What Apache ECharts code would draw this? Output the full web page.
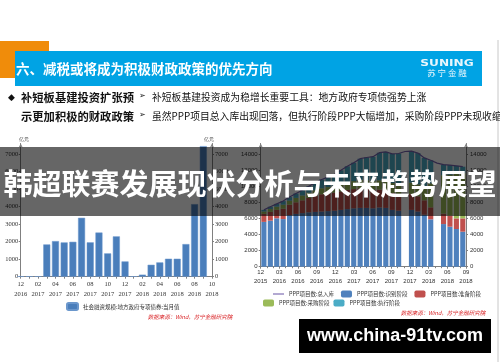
<!DOCTYPE html>
<html><head><meta charset="utf-8">
<script src="https://cdn.jsdelivr.net/npm/echarts@6/dist/echarts.min.js"></script>
<style>html,body{margin:0;padding:0;background:#fff}#c{width:500px;height:362px}</style>
</head><body><div id="c"></div>
<script>
// ---------- data: left chart (local special bonds, monthly, 亿元) ----------
const leftMonths = ['2016-12','2017-01','2017-02','2017-03','2017-04','2017-05','2017-06','2017-07','2017-08','2017-09','2017-10','2017-11','2017-12','2018-01','2018-02','2018-03','2018-04','2018-05','2018-06','2018-07','2018-08','2018-09','2018-10'];
const leftValues = [20,20,20,1840,2030,1955,1990,3360,1960,2520,1330,2300,870,20,115,680,815,1025,1025,1860,4140,7450,null];
const leftSeriesName = '社会融资规模:地方政府专项债券:当月值';

// ---------- data: right chart (PPP project counts) ----------
const rightSlots = ['2016-01','2016-02','2016-03','2016-04','2016-05','2016-06','2016-07','2016-08','2016-09','2016-10','2016-11','2016-12','2017-01','2017-02','2017-03','2017-04','2017-05','2017-06','2017-07','2017-08','2017-09','2017-10','2017-11','2017-12','2018-01','2018-02','2018-03','2018-04','2018-05','2018-06','2018-07','2018-08'];
const pppIdentify = [5600,5750,6050,5950,6450,6600,6700,6800,6850,6900,6950,7000,7100,7200,7300,7350,7350,7300,7400,7350,7100,7000,null,7100,6900,6500,5920,null,5330,5000,4710,4375];
const pppPrepare  = [1000,1100,1050,1300,1300,1450,1600,1800,2000,2150,2200,2250,2300,2400,2400,2450,2400,2300,2250,2200,2100,2100,null,2000,1900,1800,1500,null,1300,1400,1330,1665];
const pppProcure  = [300,350,400,500,500,550,600,650,700,750,800,850,900,950,1000,1050,1050,1100,1150,1200,1250,1300,null,1400,1500,1700,3000,null,4800,5100,5600,5660];
const pppExecute  = [200,300,350,450,450,550,650,800,950,1100,1250,1450,1750,2000,2300,2650,2850,3050,3450,3600,3650,3750,null,3950,3900,3600,2880,null,1320,1200,960,800];
const pppTotal    = [7100,7500,7850,8200,8700,9150,9550,10050,10500,10900,11200,11550,12050,12550,13000,13500,13650,13750,14250,14350,14100,14150,14400,14450,14200,13600,13300,12950,12750,12700,12600,12500];
const rightTickLabels = ['12\n2015','03\n2016','06\n2016','09\n2016','12\n2016','03\n2017','06\n2017','09\n2017','12\n2017','03\n2018','06\n2018','09\n2018'];
const pppNames = ['PPP项目数:总入库','PPP项目数:识别阶段','PPP项目数:准备阶段','PPP项目数:采购阶段','PPP项目数:执行阶段'];

const chart = echarts.init(document.getElementById('c'), null, {renderer:'canvas'});
const CJK = 'Noto Sans CJK SC';
const axisGray = '#808080';
const lblL = {fontSize:6.5, color:'#333', fontFamily:'Liberation Serif'};
const lblR = {fontSize:6, color:'#333', fontFamily:'Liberation Sans'};
const legendText = {fontSize:5.5, color:'#333', fontFamily:CJK};

const option = {
  animation:false,
  backgroundColor:'#fff',
  grid:[
    {left:20.7, top:143.5, width:191.3, height:133.2},
    {left:260.7, top:143.5, width:205.3, height:123.2}
  ],
  xAxis:[
    {gridIndex:0, type:'category', data:leftMonths, boundaryGap:false, position:'bottom',
     axisLine:{lineStyle:{color:axisGray}}, axisTick:{length:2, interval:0, lineStyle:{color:axisGray}},
     axisLabel:Object.assign({interval:1, margin:2.8, lineHeight:9.7, formatter:v=>v.slice(5)+'\n'+v.slice(0,4)}, lblL)},
    {gridIndex:1, type:'category', data:rightSlots, boundaryGap:true, show:false, position:'top'},
    {gridIndex:1, type:'value', min:0, max:33, interval:3, splitLine:{show:false}, position:'bottom',
     axisLine:{lineStyle:{color:axisGray}}, axisTick:{length:2, lineStyle:{color:axisGray}},
     minorTick:{show:true, splitNumber:3, length:1.5, lineStyle:{color:axisGray}},
     axisLabel:Object.assign({margin:0.8, lineHeight:9, formatter:v=>rightTickLabels[Math.round(v/3)]||''}, lblR)}
  ],
  yAxis:[
    {gridIndex:0, type:'value', min:0, max:7600, interval:1000, position:'left', splitLine:{show:false},
     name:'亿元', nameGap:1, nameTextStyle:{fontSize:5, color:'#333', align:'left', padding:[0,0,0,-2]},
     axisLine:{show:true, symbol:['none','arrow'], symbolSize:[3,4], lineStyle:{color:axisGray}},
     axisTick:{show:true, length:2, lineStyle:{color:axisGray}},
     axisLabel:Object.assign({margin:2.5, showMaxLabel:false, formatter:v=>v%1000===0?String(v):''}, lblL)},
    {gridIndex:0, type:'value', min:0, max:7600, interval:1000, position:'right', splitLine:{show:false},
     name:'亿元', nameGap:1, nameTextStyle:{fontSize:5, color:'#333', align:'right', padding:[0,-2,0,0]},
     axisLine:{show:true, symbol:['none','arrow'], symbolSize:[3,4], lineStyle:{color:axisGray}},
     axisTick:{show:true, length:2, lineStyle:{color:axisGray}},
     axisLabel:Object.assign({margin:3, showMaxLabel:false, formatter:v=>v%1000===0?String(v):''}, lblL)},
    {gridIndex:1, type:'value', min:0, max:15400, interval:2000, position:'left', splitLine:{show:false},
     axisLine:{show:true, symbol:['none','arrow'], symbolSize:[3,4], lineStyle:{color:axisGray}},
     axisTick:{show:true, length:2, lineStyle:{color:axisGray}},
     axisLabel:Object.assign({margin:3, showMaxLabel:false, formatter:v=>v%2000===0?String(v):''}, lblR)},
    {gridIndex:1, type:'value', min:0, max:15400, interval:2000, position:'right', splitLine:{show:false},
     axisLine:{show:true, symbol:['none','arrow'], symbolSize:[3,4], lineStyle:{color:axisGray}},
     axisTick:{show:true, length:2, lineStyle:{color:axisGray}},
     axisLabel:Object.assign({margin:4, showMaxLabel:false, formatter:v=>v%2000===0?String(v):''}, lblR)}
  ],
  legend:[
    {data:[leftSeriesName], left:66, top:302, padding:0, itemWidth:11, itemHeight:7, itemGap:6, textStyle:legendText},
    {data:[{name:pppNames[0], icon:'path://M0,0L20,0L20,2L0,2Z'}, pppNames[1], pppNames[2]],
     left:273, top:290.5, padding:0, itemWidth:11, itemHeight:7, itemGap:7, textStyle:legendText},
    {data:[pppNames[3], pppNames[4]], left:263, top:299.5, padding:0, itemWidth:11, itemHeight:7, itemGap:4, textStyle:legendText}
  ],
  series:[
    {name:leftSeriesName, type:'bar', xAxisIndex:0, yAxisIndex:0, data:leftValues, barWidth:7,
     itemStyle:{color:'#4A7EBB', borderColor:'#6b97cc', borderWidth:0.5}},
    {name:pppNames[1], type:'bar', stack:'ppp', xAxisIndex:1, yAxisIndex:2, data:pppIdentify, barWidth:'80%', itemStyle:{color:'#4F81BD'}},
    {name:pppNames[2], type:'bar', stack:'ppp', xAxisIndex:1, yAxisIndex:2, data:pppPrepare, itemStyle:{color:'#C0504D'}},
    {name:pppNames[3], type:'bar', stack:'ppp', xAxisIndex:1, yAxisIndex:2, data:pppProcure, itemStyle:{color:'#9BBB59'}},
    {name:pppNames[4], type:'bar', stack:'ppp', xAxisIndex:1, yAxisIndex:2, data:pppExecute, itemStyle:{color:'#4BACC6'}},
    {name:pppNames[0], type:'line', xAxisIndex:1, yAxisIndex:2, data:pppTotal, symbol:'none', z:5,
     lineStyle:{color:'#7563AE', width:1.2}, itemStyle:{color:'#7563AE'}}
  ],
  graphic:[
    {type:'line', shape:{x1:498, y1:40, x2:498, y2:362}, style:{stroke:'#c8c8c8', lineWidth:1}},
    {type:'rect', shape:{x:0, y:41, width:49, height:37}, style:{fill:'#F08C0A'}},
    {type:'rect', shape:{x:15, y:51, width:467, height:35}, style:{fill:'#00A3E4'}},
    {type:'text', x:16, y:69, style:{text:'六、减税或将成为积极财政政策的优先方向', fill:'#fff', font:'bold 13.5px "Noto Sans CJK SC"', verticalAlign:'middle'}},
    {type:'text', x:447, y:63.5, scaleX:1.35, originX:0, originY:0, style:{text:'SUNING', fill:'#e9f6fc', font:'bold 9px "DejaVu Sans"', align:'center', verticalAlign:'middle'}},
    {type:'text', x:447, y:73, style:{text:'苏 宁 金 融', fill:'#e9f6fc', font:'8.5px "Noto Sans CJK SC"', align:'center', verticalAlign:'middle'}},
    {type:'text', x:8, y:97.7, style:{text:'◆', fill:'#111', font:'9px "DejaVu Sans"', verticalAlign:'middle'}},
    {type:'text', x:21, y:97.7, style:{text:'补短板基建投资扩张预', fill:'#111', font:'bold 11.3px "Noto Sans CJK SC"', verticalAlign:'middle'}},
    {type:'text', x:21, y:116.7, style:{text:'示更加积极的财政政策', fill:'#111', font:'bold 11.3px "Noto Sans CJK SC"', verticalAlign:'middle'}},
    {type:'text', x:139, y:96, style:{text:'➢', fill:'#111', font:'8px "DejaVu Sans"', verticalAlign:'middle'}},
    {type:'text', x:139, y:115, style:{text:'➢', fill:'#111', font:'8px "DejaVu Sans"', verticalAlign:'middle'}},
    {type:'text', x:152, y:97.5, style:{text:'补短板基建投资成为稳增长重要工具：地方政府专项债强势上涨', fill:'#111', font:'9.8px "Noto Sans CJK SC"', verticalAlign:'middle'}},
    {type:'text', x:152, y:116.5, style:{text:'虽然PPP项目总入库出现回落，但执行阶段PPP大幅增加，采购阶段PPP未现收缩', fill:'#111', font:'9.8px "Noto Sans CJK SC"', verticalAlign:'middle'}},
    {type:'text', x:190, y:317, style:{text:'数据来源：Wind，苏宁金融研究院', fill:'#D7191C', font:'italic 5.5px "Noto Sans CJK SC"', align:'center', verticalAlign:'middle'}},
    {type:'text', x:443, y:313, style:{text:'数据来源：Wind，苏宁金融研究院', fill:'#D7191C', font:'italic 5.5px "Noto Sans CJK SC"', align:'center', verticalAlign:'middle'}},
    {type:'rect', z:100, shape:{x:0, y:147, width:500, height:69}, style:{fill:'rgba(0,0,0,0.6)'}},
    {type:'text', z:101, x:250, y:184, style:{text:'韩超联赛发展现状分析与未来趋势展望', fill:'#fff', font:'bold 29px "Noto Sans CJK SC"', align:'center', verticalAlign:'middle'}},
    {type:'rect', z:100, shape:{x:299, y:319, width:192, height:34}, style:{fill:'#000'}},
    {type:'text', z:101, x:395, y:336, style:{text:'www.china-91tv.com', fill:'#fff', font:'bold 18px "Liberation Sans"', align:'center', verticalAlign:'middle'}}
  ]
};
chart.setOption(option);
</script>
</body></html>
